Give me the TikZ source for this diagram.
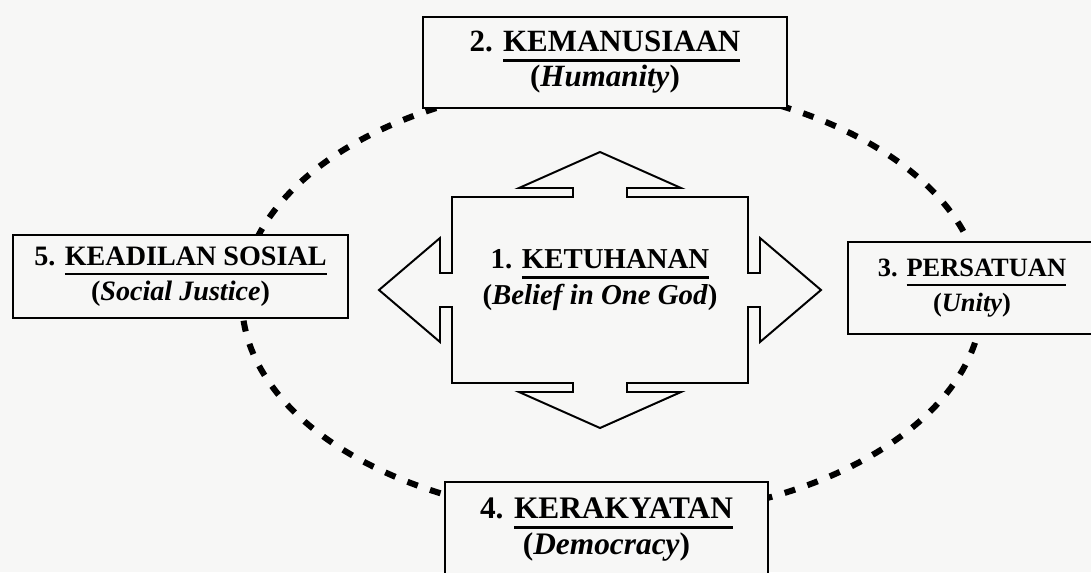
\documentclass[tikz,border=0pt]{standalone}
\usepackage{fontspec}
\setmainfont{Liberation Serif}
\usepackage{xcolor}
\usepackage{tikz}
\usetikzlibrary{calc}

\definecolor{paper}{RGB}{247,247,246}
\newcommand{\pillarfont}[1][20.5]{\fontsize{#1}{25}\selectfont\bfseries}
\newcommand{\ulword}[1]{\setbox0\hbox{#1}\rlap{\rule[-7pt]{\wd0}{1.6pt}}\box0}

\begin{document}
\begin{tikzpicture}[x = 0.025cm, y = -0.025cm]
		\useasboundingbox (0, 0) rectangle (1091, 572);
		\clip (0, 0) rectangle (1091, 572);
		\fill [paper] (0, 0) rectangle (1091, 572);
		
		% the dashed ring behind the five boxes
		\draw [line width = 4.3pt, dash pattern = on 0.275cm off 0.325cm]
		(612, 300) ellipse [x radius = 9.25cm, y radius = 5.45cm];
		
		\begin{scope}[every node/.style={rectangle, draw, fill = paper, line width = 1.6pt, align = center, font = \pillarfont}]
		\node (2) [minimum width = 9.1cm, minimum height = 2.275cm, font = {\pillarfont[22]}] at (605, 62.5) {2. \ulword{KEMANUSIAAN}\\(\textit{Humanity})};
		\node (5) [minimum width = 8.375cm, minimum height = 2.075cm, font = {\pillarfont[20]}] at (180.5, 276.5) {5. \ulword{KEADILAN SOSIAL}\\(\textit{Social Justice})};
		\node (3) [minimum width = 6.2cm, minimum height = 2.3cm, font = {\pillarfont[18.8]}] at (972, 288) {3. \ulword{PERSATUAN}\\(\textit{Unity})};
		\node (4) [minimum width = 8.075cm, minimum height = 2.375cm, font = {\pillarfont[22.3]}] at (606.5, 529.5) {4. \ulword{KERAKYATAN}\\(\textit{Democracy})};
		\end{scope}
		
		% four-way arrow round the first pillar
		\coordinate (c) at (600, 290);
		\draw [line width = 1.4pt]
		($(c) + (-148, -93)$) -- ($(c) + (-27, -93)$) -- ($(c) + (-27, -102)$) -- ($(c) + (-81, -102)$) --
		($(c) + (0, -138)$) -- ($(c) + (81, -102)$) -- ($(c) + (27, -102)$) -- ($(c) + (27, -93)$) --
		($(c) + (148, -93)$) -- ($(c) + (148, -17)$) -- ($(c) + (160, -17)$) -- ($(c) + (160, -52)$) --
		($(c) + (221, 0)$) -- ($(c) + (160, 52)$) -- ($(c) + (160, 17)$) -- ($(c) + (148, 17)$) --
		($(c) + (148, 93)$) -- ($(c) + (27, 93)$) -- ($(c) + (27, 102)$) -- ($(c) + (81, 102)$) --
		($(c) + (0, 138)$) -- ($(c) + (-81, 102)$) -- ($(c) + (-27, 102)$) -- ($(c) + (-27, 93)$) --
		($(c) + (-148, 93)$) -- ($(c) + (-148, 17)$) -- ($(c) + (-160, 17)$) -- ($(c) + (-160, 52)$) --
		($(c) + (-221, 0)$) -- ($(c) + (-160, -52)$) -- ($(c) + (-160, -17)$) -- ($(c) + (-148, -17)$)
		-- cycle;
		
		\node (1) [align = center, font = \pillarfont] at (600, 280) {1. \ulword{KETUHANAN}\\(\textit{Belief in One God})};
		
\end{tikzpicture}
\end{document}
